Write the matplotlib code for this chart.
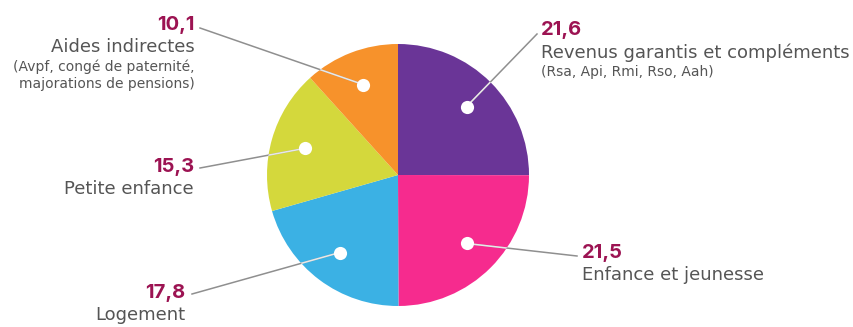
import numpy as np
import matplotlib.pyplot as plt
from matplotlib.patches import Circle

# Dépenses par poste (milliards d'euros)
labels = ["Revenus garantis et compléments", "Enfance et jeunesse", "Logement",
          "Petite enfance", "Aides indirectes"]
details = ["(Rsa, Api, Rmi, Rso, Aah)", "", "", "",
           "(Avpf, congé de paternité,\nmajorations de pensions)"]
values = [21.6, 21.5, 17.8, 15.3, 10.1]
colors = ["#6a3597", "#f62b8e", "#3bb1e4", "#d4d83c", "#f7922b"]

W, H = 854, 327
VALUE_COLOR = "#9c1352"
TEXT_COLOR = "#555555"
FONT = ["DejaVu Sans"]
NUM_FONT = ["Inter", "DejaVu Sans"]

fig = plt.figure(figsize=(W / 100, H / 100), dpi=100)
ax = fig.add_axes([0, 0, 1, 1])

cx, cy, r = 398, H - 175, 131
wedges, _ = ax.pie(values, colors=colors, startangle=90, counterclock=False,
                   center=(cx, cy), radius=r, frame=True,
                   wedgeprops=dict(linewidth=0))
ax.set_xlim(0, W)
ax.set_ylim(0, H)
ax.set_aspect("equal")
ax.axis("off")

# label anchor (end of leader line), text alignment, text position
anchors = [
    ((537, H - 34), "left", (541, H - 30)),
    ((577, H - 256), "left", (582, H - 253)),
    ((192, H - 294), "right", (185, H - 293)),
    ((200, H - 168), "right", (194, H - 167)),
    ((200, H - 28), "right", (195, H - 25)),
]

clip = Circle((cx, cy), r, transform=ax.transData)
for w, v, lab, det, (end, ha, tpos) in zip(wedges, values, labels, details, anchors):
    mid = np.deg2rad((w.theta1 + w.theta2) / 2)
    dx, dy = cx + 0.74 * r * np.cos(mid), cy + 0.74 * r * np.sin(mid)
    ax.plot([dx, end[0]], [dy, end[1]], color="#8f8f8f", lw=1.1, zorder=3)
    inner, = ax.plot([dx, end[0]], [dy, end[1]], color="white", lw=1.1,
                     alpha=0.8, zorder=4)
    inner.set_clip_path(clip)
    ax.scatter([dx], [dy], s=90, color="white", zorder=5, linewidths=0)

    tx, ty = tpos
    ax.text(tx, ty, f"{v:.1f}".replace(".", ","), ha=ha, va="center",
            fontsize=14.5, fontweight="bold", color=VALUE_COLOR, family=NUM_FONT)
    ax.text(tx, ty - 22.5, lab, ha=ha, va="center", fontsize=13,
            color=TEXT_COLOR, family=FONT)
    if det:
        ax.text(tx, ty - 35, det, ha=ha, va="top", fontsize=10,
                color=TEXT_COLOR, family=FONT, linespacing=1.2)

fig.savefig("out.png", dpi=100, facecolor="white")
